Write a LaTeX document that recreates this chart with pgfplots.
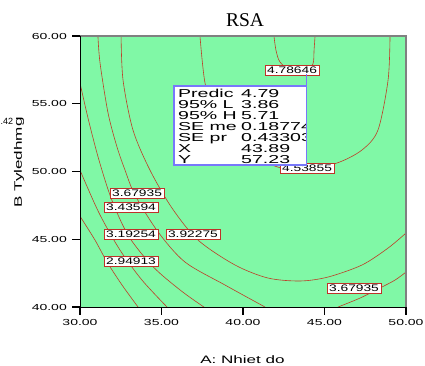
\documentclass[border=0pt]{standalone}
\usepackage{fontspec}
\usepackage{pgfplots}
\usetikzlibrary{calc}
\pgfplotsset{compat=1.18}
\setmainfont{Liberation Sans}
\newfontfamily\titlefont{Liberation Serif}
\newfontfamily\boxfont[FakeStretch=1.7]{Liberation Sans}
\newfontfamily\lblfont[FakeStretch=1.45]{Liberation Sans}
\newfontfamily\tickfont[FakeStretch=1.6]{Liberation Sans}
\newfontfamily\axfont[FakeStretch=1.58]{Liberation Sans}
\definecolor{bggreen}{RGB}{128,248,166}
\definecolor{cline}{RGB}{190,62,40}
\definecolor{lblred}{RGB}{190,50,40}
\definecolor{flagblue}{RGB}{120,120,250}
\tikzset{clab/.style={draw=lblred, fill=white, line width=0.6pt, inner xsep=2pt, inner ysep=1.5pt,
  text height=6.8pt, text depth=0pt, font=\lblfont\fontsize{9.5}{10}\selectfont},
  bt/.style={anchor=base west, inner sep=0pt, font=\boxfont\fontsize{11.5}{11}\selectfont}}
\begin{document}
\begin{tikzpicture}[x=1pt,y=1pt]
\path (0,0) rectangle (425,-365);
\begin{axis}[
  name=ax,
  at={(80pt,-307pt)}, anchor=south west,
  scale only axis, width=326pt, height=271pt,
  xmin=30, xmax=50, ymin=40, ymax=60,
  axis background/.style={fill=bggreen},
  axis line style={black, line width=0.8pt},
  xtick={30,35,40,45,50}, ytick={40,45,50,55,60},
  major tick length=0pt,
  xticklabel={\tickfont\fontsize{8.75}{10}\selectfont\pgfmathprintnumber[fixed,fixed zerofill,precision=2,assume math mode=true]{\tick}},
  yticklabel={\tickfont\fontsize{8.75}{10}\selectfont\pgfmathprintnumber[fixed,fixed zerofill,precision=2,assume math mode=true]{\tick}},
  xticklabel style={anchor=north, inner sep=0pt, yshift=-12pt},
  yticklabel style={anchor=east, inner sep=0pt, xshift=-13pt},
]
% 2.94913
\addplot[cline, line width=0.6pt, smooth] coordinates {(30,46.70) (30.92,44.94) (31.66,43.32) (32.58,41.62) (33.56,40)};
% 3.19254
\addplot[cline, line width=0.6pt, smooth] coordinates {(30,50.11) (30.31,49.23) (31.23,46.79) (32.45,44.21) (33.80,41.99) (35.34,40)};
% 3.43594
\addplot[cline, line width=0.6pt, smooth] coordinates {(30,56.53) (30.5,53.9) (31.15,50.9) (31.95,47.9) (33.0,45.2) (34.5,42.95) (36.2,41.2) (37.6,40)};
% 3.67935 (left)
\addplot[cline, line width=0.6pt, smooth] coordinates {(31.10,60) (31.23,58.0) (31.72,54.32) (32.27,51.81) (32.76,50.11) (33.37,48.27) (34.79,45.54) (36.44,43.32) (38.90,41.62) (41.35,40)};
% 3.67935 (right)
\addplot[cline, line width=0.6pt, smooth] coordinates {(45.83,40) (47.18,40.66) (48.40,41.40) (49.33,41.99) (50,42.58)};
% 3.92275
\addplot[cline, line width=0.6pt, smooth] coordinates {(32.52,60) (32.64,56.75) (33.25,53.06) (34.29,50.11) (35.64,47.31) (37.24,44.94) (39.51,43.10) (41.53,42.14) (43.50,41.92) (45.21,42.21) (47.30,43.10) (48.90,44.35) (50,45.46)};
% 4.53855
\addplot[cline, line width=0.6pt, smooth] coordinates {(37.36,60) (37.67,56.53) (38.28,54.54) (39.51,52.32) (41.47,50.63) (43.50,50.04) (45.77,50.63) (47.30,51.59) (48.28,53.06) (48.90,56.75) (49.02,60)};
% 4.78646
\addplot[cline, line width=0.6pt, smooth] coordinates {(41.90,60) (42.02,58.97) (42.27,58.08) (43.01,57.34) (43.80,57.34) (44.29,57.93) (44.36,58.97) (44.42,60)};
% contour labels
\node[clab] at (axis cs:43.01,57.46) {4.78646};
\node[clab] at (axis cs:43.93,50.26) {4.53855};
\node[clab] at (axis cs:33.50,48.41) {3.67935};
\node[clab] at (axis cs:33.13,47.38) {3.43594};
\node[clab] at (axis cs:33.13,45.39) {3.19254};
\node[clab] at (axis cs:33.13,43.39) {2.94913};
\node[clab] at (axis cs:36.93,45.39) {3.92275};
\node[clab] at (axis cs:46.81,41.40) {3.67935};
% info box
\fill[white] (axis cs:35.77,50.48) rectangle (axis cs:43.89,56.31);
\begin{scope}
\clip (axis cs:35.77,50.48) rectangle (axis cs:43.89,56.31);
\node[bt] at (axis cs:36.01,55.498) {Predic};
\node[bt] at (axis cs:39.88,55.498) {4.79};
\node[bt] at (axis cs:36.01,54.686) {95\% L};
\node[bt] at (axis cs:39.88,54.686) {3.86};
\node[bt] at (axis cs:36.01,53.875) {95\% H};
\node[bt] at (axis cs:39.88,53.875) {5.71};
\node[bt] at (axis cs:36.01,53.063) {SE me};
\node[bt] at (axis cs:39.88,53.063) {0.18774};
\node[bt] at (axis cs:36.01,52.251) {SE pr};
\node[bt] at (axis cs:39.88,52.251) {0.43303};
\node[bt] at (axis cs:36.01,51.439) {X};
\node[bt] at (axis cs:39.88,51.439) {43.89};
\node[bt] at (axis cs:36.01,50.627) {Y};
\node[bt] at (axis cs:39.88,50.627) {57.23};
\end{scope}
\draw[flagblue, line width=1.6pt] (axis cs:35.77,50.48) rectangle (axis cs:43.89,56.31);
\draw[flagblue, line width=1.6pt] (axis cs:43.89,56.31) -- (axis cs:43.89,57.23);
\end{axis}
\draw[gray, line width=1.3pt] (ax.north west) -- (ax.north east) -- (ax.south east);
\draw[black, line width=0.8pt] (ax.north west) -- (ax.south west) -- (ax.south east);
% tick marks
\foreach \p in {0,1,2,3,4} {
  \fill[black] ($(ax.south west)!\p/4!(ax.south east) + (-0.6pt,0)$) rectangle ++(1.2pt,-7.5pt);
  \fill[black] ($(ax.south west)!\p/4!(ax.north west) + (0,-0.6pt)$) rectangle ++(-8pt,1.2pt);
}
\node[font=\titlefont\fontsize{19.5}{22}\selectfont] at (245,-20) {RSA};
\node[anchor=base, inner sep=0pt, font=\axfont\fontsize{10.8}{12}\selectfont] at (242.5,-363) {A: Nhiet do};
\node[rotate=90, inner sep=0pt, font=\axfont\fontsize{10.8}{12}\selectfont] at (19,-162.5) {B Tyledhmg};
\node[anchor=west, inner sep=0pt, font=\fontsize{9}{10}\selectfont] at (0.5,-121.5) {.42};
\pgfresetboundingbox
\path[use as bounding box] (0,0) rectangle (425,-365);
\end{tikzpicture}
\end{document}
